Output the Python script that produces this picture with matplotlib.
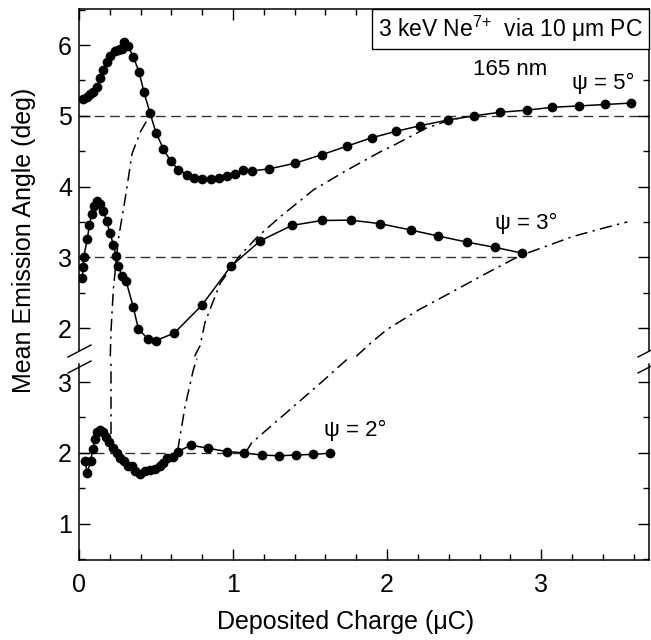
import matplotlib
matplotlib.use('Agg')
import matplotlib.pyplot as plt
from matplotlib.lines import Line2D
from matplotlib.patches import Rectangle
from matplotlib.ticker import MultipleLocator

plt.rcParams['font.family'] = ['Liberation Sans', 'DejaVu Sans']
plt.rcParams['mathtext.fontset'] = 'custom'
plt.rcParams['mathtext.rm'] = 'Liberation Sans'

# psi = 5 deg (upper panel)
psi5_x = [0.028, 0.05, 0.071, 0.093, 0.115, 0.136, 0.158, 0.18, 0.2, 0.234, 0.25, 0.266, 0.28,
          0.294, 0.32, 0.353, 0.39, 0.422, 0.461, 0.5, 0.548, 0.595, 0.645, 0.70, 0.749, 0.80,
          0.855, 0.907, 0.959, 1.013, 1.067, 1.121, 1.236, 1.403, 1.576, 1.738, 1.90, 2.058,
          2.214, 2.394, 2.565, 2.734, 2.907, 3.073, 3.245, 3.416, 3.583]
psi5_y = [5.235, 5.26, 5.31, 5.34, 5.41, 5.53, 5.65, 5.76, 5.84, 5.91, 5.93, 5.94, 5.95,
          6.05, 5.98, 5.83, 5.62, 5.33, 5.04, 4.76, 4.53, 4.36, 4.24, 4.17, 4.12, 4.11,
          4.11, 4.12, 4.15, 4.18, 4.23, 4.22, 4.25, 4.33, 4.45, 4.57, 4.69, 4.78,
          4.86, 4.94, 5.0, 5.05, 5.08, 5.12, 5.14, 5.16, 5.18]

# psi = 3 deg (upper panel)
psi3_x = [0.022, 0.025, 0.03, 0.054, 0.067, 0.082, 0.099, 0.115, 0.136, 0.158, 0.18, 0.2,
          0.223, 0.24, 0.255, 0.277, 0.305, 0.353, 0.385, 0.445, 0.498, 0.619, 0.797, 0.985,
          1.175, 1.381, 1.576, 1.764, 1.955, 2.154, 2.333, 2.517, 2.70, 2.875]
psi3_y = [2.70, 2.86, 3.0, 3.26, 3.45, 3.61, 3.73, 3.79, 3.76, 3.65, 3.51, 3.35,
          3.18, 3.02, 2.88, 2.74, 2.67, 2.29, 1.99, 1.85, 1.82, 1.93, 2.32, 2.87,
          3.23, 3.45, 3.52, 3.525, 3.475, 3.385, 3.30, 3.215, 3.14, 3.06]

# psi = 2 deg (lower panel)
psi2_x = [0.039, 0.054, 0.076, 0.089, 0.104, 0.119, 0.136, 0.154, 0.175, 0.197, 0.219, 0.245,
          0.266, 0.292, 0.32, 0.342, 0.364, 0.396, 0.429, 0.461, 0.494, 0.526, 0.548, 0.574,
          0.608, 0.645, 0.725, 0.84, 0.959, 1.074, 1.186, 1.30, 1.409, 1.517, 1.63]
psi2_y = [1.88, 1.72, 1.89, 2.05, 2.20, 2.30, 2.33, 2.29, 2.22, 2.15, 2.075, 2.0,
          1.925, 1.88, 1.82, 1.81, 1.74, 1.70, 1.74, 1.76, 1.775, 1.81, 1.855, 1.925,
          1.94, 2.02, 2.11, 2.065, 2.02, 2.0, 1.97, 1.96, 1.97, 1.98, 1.995]

# dash-dot guides (lower part / upper part)
guideA_low_x = [0.205, 0.205]
guideA_low_y = [2.27, 3.32]
guideA_up_x = [0.203, 0.208, 0.223, 0.255, 0.299, 0.345, 0.40, 0.44, 0.461]
guideA_up_y = [1.60, 1.97, 2.55, 3.25, 3.82, 4.47, 4.78, 4.93, 5.03]
guideB_low_x = [0.64, 0.688, 0.742, 0.765]
guideB_low_y = [2.03, 2.65, 3.17, 3.33]
guideB_up_x = [0.75, 0.786, 0.818, 0.916, 1.035, 1.154, 1.305, 1.52, 1.738, 1.955, 2.04,
               2.258, 2.41, 2.5]
guideB_up_y = [1.60, 1.75, 2.08, 2.63, 3.0, 3.28, 3.57, 3.95, 4.23, 4.49, 4.58,
               4.83, 4.94, 4.98]
guideC_low_x = [1.08, 1.12, 1.305, 1.565, 1.74]
guideC_low_y = [2.0, 2.14, 2.49, 2.98, 3.32]
guideC_up_x = [1.80, 1.90, 2.0, 2.2, 2.43, 2.65, 2.86, 3.05, 3.2, 3.4, 3.56]
guideC_up_y = [1.60, 1.80, 1.98, 2.25, 2.52, 2.78, 3.02, 3.17, 3.29, 3.41, 3.5]

fig = plt.figure(figsize=(6.51, 6.40), dpi=100)
W, H = 651.0, 640.0
ax_up = fig.add_axes([79 / W, 1 - 351 / H, 570 / W, 342 / H])
ax_lo = fig.add_axes([79 / W, 1 - 560 / H, 570 / W, 196 / H])

mk = dict(color='black', lw=1.1, marker='o', ms=6, zorder=3)
dd = dict(color='black', lw=1.1, dashes=(8, 3.5, 1.5, 3.5), zorder=2, clip_on=False)
hd = dict(color='#333333', lw=1.0, dashes=(7, 4), zorder=1)

ax_up.plot([0, 3.7], [5, 5], **hd)
ax_up.plot([0, 2.875], [3, 3], **hd)
ax_lo.plot([0, 1.08], [2, 2], **hd)

ax_up.plot(psi5_x, psi5_y, **mk)
ax_up.plot(psi3_x, psi3_y, **mk)
ax_lo.plot(psi2_x, psi2_y, **mk)

ax_up.plot(guideA_up_x, guideA_up_y, **dd)
ax_up.plot(guideB_up_x, guideB_up_y, **dd)
ax_up.plot(guideC_up_x, guideC_up_y, **dd)
ax_lo.plot(guideA_low_x, guideA_low_y, **dd)
ax_lo.plot(guideB_low_x, guideB_low_y, **dd)
ax_lo.plot(guideC_low_x, guideC_low_y, **dd)

ax_up.set_xlim(0, 3.7)
ax_lo.set_xlim(0, 3.7)
ax_up.set_ylim(1.675, 6.51)
ax_lo.set_ylim(0.49, 3.254)

for ax in (ax_up, ax_lo):
    ax.xaxis.set_major_locator(MultipleLocator(1))
    ax.xaxis.set_minor_locator(MultipleLocator(0.2))
    ax.yaxis.set_major_locator(MultipleLocator(1))
    ax.yaxis.set_minor_locator(MultipleLocator(0.5))
    ax.tick_params(which='both', direction='in', width=1.0, labelsize=18, left=True, right=True)
    ax.tick_params(which='major', length=8)
    ax.tick_params(which='minor', length=4.5)
    ax.tick_params(axis='y', pad=5)
    for s in ax.spines.values():
        s.set_linewidth(1.1)

ax_up.spines['bottom'].set_visible(False)
ax_lo.spines['top'].set_visible(False)
ax_up.tick_params(axis='x', which='both', top=True, bottom=False, labelbottom=False)
ax_lo.tick_params(axis='x', which='both', top=False, bottom=True, pad=9)
ax_up.set_yticks([2, 3, 4, 5, 6])
ax_lo.set_yticks([1, 2, 3])

# annotation box and labels
ax_up.add_patch(Rectangle((0.514, 0.883), 0.486, 0.117, transform=ax_up.transAxes,
                          facecolor='white', edgecolor='black', lw=1.0, zorder=4, clip_on=False))
ax_up.text(0.757, 0.9415, '3 keV Ne$^{7{+}}$  via 10 μm PC', transform=ax_up.transAxes,
           ha='center', va='center', fontsize=16.5, zorder=5)
ax_up.text(2.80, 5.65, '165 nm', ha='center', va='center', fontsize=16)
ax_up.text(3.40, 5.46, 'ψ = 5°', ha='center', va='center', fontsize=16)
ax_up.text(2.90, 3.48, 'ψ = 3°', ha='center', va='center', fontsize=16)
ax_lo.text(1.79, 2.32, 'ψ = 2°', ha='center', va='center', fontsize=16)

fig.text(24 / W, 1 - 240 / H, 'Mean Emission Angle (deg)', rotation=90,
         ha='center', va='center', fontsize=18)
fig.text(346 / W, 1 - 622 / H, 'Deposited Charge (μC)', ha='center', va='center', fontsize=18)

# axis break marks
for (x0, y0, x1, y1) in [(68, 357, 91, 345), (68, 373, 91, 361),
                         (638, 357, 661, 345), (638, 373, 661, 361)]:
    fig.add_artist(Line2D([x0 / W, x1 / W], [1 - y0 / H, 1 - y1 / H], color='black', lw=1.0))

fig.savefig('out.png', dpi=100)
